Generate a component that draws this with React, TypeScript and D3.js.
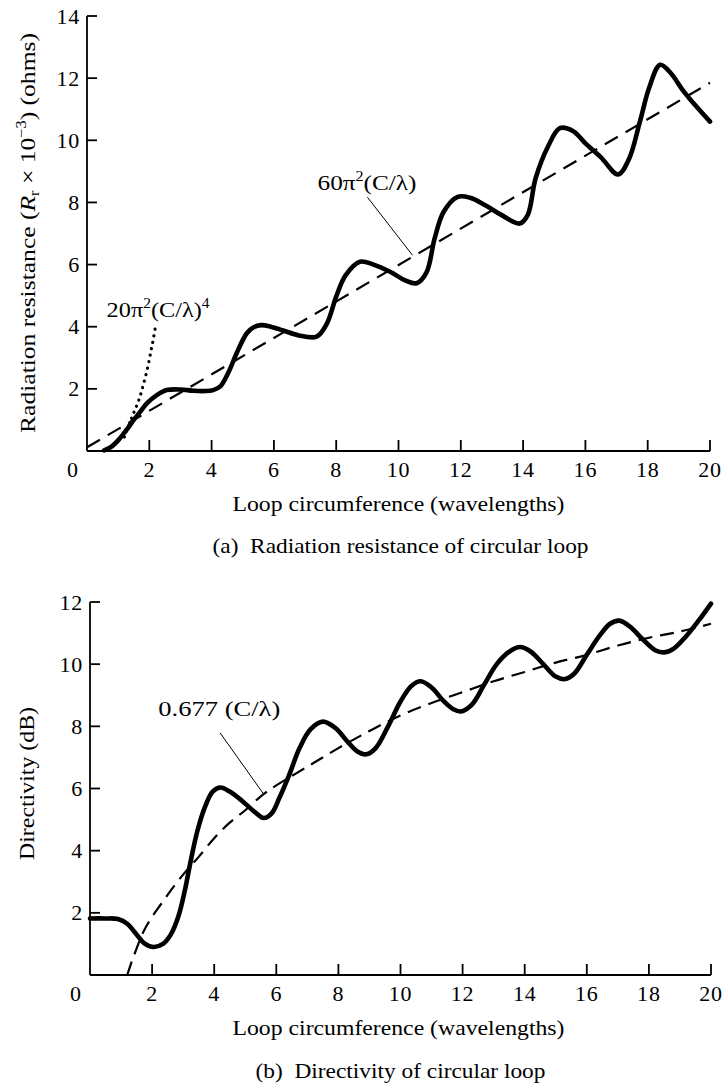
import React from 'react';
import * as d3 from 'd3';

// ---------- data ----------
const X_TICKS = [2, 4, 6, 8, 10, 12, 14, 16, 18, 20];
const RR_TICKS = [2, 4, 6, 8, 10, 12, 14];
const D_TICKS = [2, 4, 6, 8, 10, 12];

// (a) radiation resistance (x 10^-3 ohms) vs loop circumference (wavelengths)
const RR_X = [0.55, 0.8, 1.05, 1.3, 1.5, 1.7, 1.92, 2.24, 2.56, 3.0, 3.4, 3.8, 4.05, 4.27, 4.55, 4.8, 5.13, 5.35, 5.6, 5.9, 6.3, 6.8, 7.37, 7.7, 8.0, 8.3, 8.76, 9.2, 9.73, 10.2, 10.58, 10.9, 11.16, 11.45, 11.9, 12.3, 12.8, 13.3, 13.89, 14.15, 14.4, 14.8, 15.18, 15.6, 16.0, 16.5, 17.05, 17.4, 17.75, 18.05, 18.4, 18.75, 19.1, 19.55, 20.0];
const RR_Y = [0.02, 0.15, 0.4, 0.72, 1.0, 1.25, 1.53, 1.8, 1.96, 1.98, 1.94, 1.93, 1.96, 2.07, 2.55, 3.14, 3.79, 3.98, 4.05, 4.0, 3.88, 3.72, 3.68, 4.1, 4.97, 5.65, 6.09, 6.0, 5.77, 5.5, 5.4, 5.75, 6.84, 7.7, 8.18, 8.15, 7.9, 7.6, 7.32, 7.6, 8.77, 9.8, 10.39, 10.3, 9.9, 9.45, 8.9, 9.4, 10.6, 11.7, 12.43, 12.15, 11.65, 11.1, 10.6];
const RR_LARGE_X = [0, 20];          // 60 pi^2 (C/lambda)
const RR_LARGE_Y = [0.12, 11.85];
const RR_SMALL_X = [1.2, 1.46, 1.65, 1.8, 1.95, 2.05, 2.12, 2.19]; // 20 pi^2 (C/lambda)^4
const RR_SMALL_Y = [0.45, 1.13, 1.6, 2.1, 2.7, 3.2, 3.55, 3.95];

// (b) directivity (dB)
const D_X = [0, 0.5, 0.9, 1.2, 1.5, 1.75, 2.05, 2.35, 2.6, 2.85, 3.05, 3.25, 3.45, 3.7, 3.95, 4.2, 4.5, 4.9, 5.3, 5.6, 5.85, 6.1, 6.4, 6.75, 7.1, 7.5, 7.9, 8.3, 8.6, 8.9, 9.2, 9.6, 10.0, 10.35, 10.65, 11.0, 11.4, 11.7, 11.95, 12.3, 12.7, 13.1, 13.5, 13.85, 14.2, 14.6, 15.0, 15.3, 15.6, 16.0, 16.4, 16.75, 17.05, 17.4, 17.8, 18.2, 18.5, 18.8, 19.2, 19.6, 20.0];
const D_Y = [1.82, 1.82, 1.8, 1.65, 1.3, 1.02, 0.9, 1.0, 1.3, 1.9, 2.7, 3.7, 4.6, 5.4, 5.9, 6.03, 5.9, 5.6, 5.25, 5.05, 5.2, 5.7, 6.4, 7.3, 7.9, 8.15, 7.95, 7.5, 7.2, 7.1, 7.3, 8.0, 8.8, 9.3, 9.45, 9.25, 8.8, 8.55, 8.48, 8.7, 9.35, 10.0, 10.4, 10.55, 10.4, 10.0, 9.6, 9.52, 9.7, 10.3, 10.9, 11.3, 11.4, 11.2, 10.8, 10.45, 10.38, 10.5, 10.9, 11.4, 11.95];
const D_APPROX_X = [1.2, 1.35, 1.5, 1.7, 1.95, 2.3, 2.7, 3.1, 3.5, 4, 4.5, 5, 5.5, 6, 7, 8, 9, 10, 11, 12, 13, 14, 15, 16, 17, 18, 19, 20]; // 0.677 (C/lambda)
const D_APPROX_Y = [0, 0.45, 0.85, 1.35, 1.8, 2.3, 2.85, 3.35, 3.8, 4.4, 4.9, 5.3, 5.75, 6.1, 6.7, 7.3, 7.85, 8.35, 8.75, 9.1, 9.45, 9.75, 10.05, 10.3, 10.6, 10.85, 11.05, 11.3];

const zip = (xs: number[], ys: number[]): [number, number][] => xs.map((x, i) => [x, ys[i]]);

const FONT = '"Liberation Serif", "Times New Roman", Times, serif';
const FS = 22;

type Panel = {
  xRange: [number, number];
  yRange: [number, number];
  yMax: number;
  yTicks: number[];
};

const TOP: Panel = { xRange: [87, 710], yRange: [451, 16], yMax: 14, yTicks: RR_TICKS };
const BOT: Panel = { xRange: [90, 711], yRange: [975, 602], yMax: 12, yTicks: D_TICKS };

function Axes({ p, xs, ys }: { p: Panel; xs: d3.ScaleLinear<number, number>; ys: d3.ScaleLinear<number, number> }) {
  const x0 = xs(0);
  const y0 = ys(0);
  return (
    <g stroke="#000" strokeWidth={1.8} fill="none">
      <line x1={x0} y1={y0} x2={xs(20)} y2={y0} />
      <line x1={x0} y1={y0} x2={x0} y2={ys(p.yMax)} />
      {X_TICKS.map((t) => (
        <line key={'xt' + t} x1={xs(t)} x2={xs(t)} y1={y0} y2={y0 - 11} />
      ))}
      {p.yTicks.map((t) => (
        <line key={'yt' + t} x1={x0} x2={x0 + 10} y1={ys(t)} y2={ys(t)} />
      ))}
    </g>
  );
}

function TickLabels({ p, xs, ys }: { p: Panel; xs: d3.ScaleLinear<number, number>; ys: d3.ScaleLinear<number, number> }) {
  const x0 = xs(0);
  const y0 = ys(0);
  return (
    <g fontFamily={FONT} fontSize={FS} fill="#000">
      {X_TICKS.map((t) => (
        <text key={'xl' + t} x={xs(t)} y={y0 + 26} textAnchor="middle" letterSpacing={0.8}>{t}</text>
      ))}
      <text x={x0 - 9} y={y0 + 26} textAnchor="end">0</text>
      {p.yTicks.map((t) => (
        <text key={'yl' + t} x={x0 - 7} y={ys(t) + 7.5} textAnchor="end" letterSpacing={0.8}>{t}</text>
      ))}
    </g>
  );
}

export default function App() {
  const xsT = d3.scaleLinear().domain([0, 20]).range(TOP.xRange);
  const ysT = d3.scaleLinear().domain([0, 14]).range(TOP.yRange);
  const xsB = d3.scaleLinear().domain([0, 20]).range(BOT.xRange);
  const ysB = d3.scaleLinear().domain([0, 12]).range(BOT.yRange);

  const lineT = d3.line<[number, number]>().x((d) => xsT(d[0])).y((d) => ysT(d[1])).curve(d3.curveCatmullRom.alpha(0.5));
  const lineB = d3.line<[number, number]>().x((d) => xsB(d[0])).y((d) => ysB(d[1])).curve(d3.curveCatmullRom.alpha(0.5));
  const straightT = d3.line<[number, number]>().x((d) => xsT(d[0])).y((d) => ysT(d[1]));

  const midX = (TOP.xRange[0] + TOP.xRange[1]) / 2;

  return (
    <svg width={726} height={1087} style={{ position: 'absolute', left: 0, top: 0, background: '#fff' }}>
      <rect x={0} y={0} width={726} height={1087} fill="#fff" />

      {/* ---------- (a) ---------- */}
      <path d={straightT(zip(RR_LARGE_X, RR_LARGE_Y)) || ''} fill="none" stroke="#000" strokeWidth={2.2} strokeDasharray="15 9" />
      <path d={lineT(zip(RR_SMALL_X, RR_SMALL_Y)) || ''} fill="none" stroke="#000" strokeWidth={3.2} strokeDasharray="0.1 6.5" strokeLinecap="round" />
      <path d={lineT(zip(RR_X, RR_Y)) || ''} fill="none" stroke="#000" strokeWidth={4.6} strokeLinejoin="round" strokeLinecap="round" />
      <Axes p={TOP} xs={xsT} ys={ysT} />
      <TickLabels p={TOP} xs={xsT} ys={ysT} />
      <line x1={xsT(9.0)} y1={ysT(8.17)} x2={xsT(10.45)} y2={ysT(6.3)} stroke="#000" strokeWidth={1} />

      <g fontFamily={FONT} fontSize={FS} fill="#000">
        <text x={xsT(7.4)} y={ysT(8.4)} textLength={99} lengthAdjust="spacingAndGlyphs">
          60π<tspan fontSize={14} dy={-9}>2</tspan><tspan dy={9}>(C/λ)</tspan>
        </text>
        <text x={xsT(0.63)} y={ysT(4.31)} textLength={103} lengthAdjust="spacingAndGlyphs">
          20π<tspan fontSize={14} dy={-9}>2</tspan><tspan dy={9}>(C/λ)</tspan><tspan fontSize={14} dy={-9}>4</tspan>
        </text>
        <text transform="translate(35,233) rotate(-90)" textAnchor="middle" textLength={400} lengthAdjust="spacingAndGlyphs">
          Radiation resistance (<tspan fontStyle="italic">R</tspan><tspan fontSize={14} dy={4}>r</tspan><tspan dy={-4}> × 10</tspan><tspan fontSize={14} dy={-9}>−3</tspan><tspan dy={9}>) (ohms)</tspan>
        </text>
        <text x={midX} y={511} textAnchor="middle" textLength={332} lengthAdjust="spacingAndGlyphs">Loop circumference (wavelengths)</text>
        <text x={midX + 2} y={553} textAnchor="middle" textLength={376} lengthAdjust="spacingAndGlyphs" style={{ whiteSpace: 'pre' }}>(a)  Radiation resistance of circular loop</text>
      </g>

      {/* ---------- (b) ---------- */}
      <path d={lineB(zip(D_APPROX_X, D_APPROX_Y)) || ''} fill="none" stroke="#000" strokeWidth={2.2} strokeDasharray="14 8" />
      <path d={lineB(zip(D_X, D_Y)) || ''} fill="none" stroke="#000" strokeWidth={4.6} strokeLinejoin="round" strokeLinecap="round" />
      <Axes p={BOT} xs={xsB} ys={ysB} />
      <TickLabels p={BOT} xs={xsB} ys={ysB} />
      <line x1={xsB(4.19)} y1={ysB(7.79)} x2={xsB(5.57)} y2={ysB(5.85)} stroke="#000" strokeWidth={1} />

      <g fontFamily={FONT} fontSize={FS} fill="#000">
        <text x={xsB(2.2)} y={ysB(8.32)} textLength={122} lengthAdjust="spacingAndGlyphs">0.677 (C/λ)</text>
        <text transform="translate(34,783.5) rotate(-90)" textAnchor="middle" textLength={153} lengthAdjust="spacingAndGlyphs">Directivity (dB)</text>
        <text x={midX} y={1035} textAnchor="middle" textLength={332} lengthAdjust="spacingAndGlyphs">Loop circumference (wavelengths)</text>
        <text x={midX + 2} y={1078} textAnchor="middle" textLength={290} lengthAdjust="spacingAndGlyphs" style={{ whiteSpace: 'pre' }}>(b)  Directivity of circular loop</text>
      </g>
    </svg>
  );
}
